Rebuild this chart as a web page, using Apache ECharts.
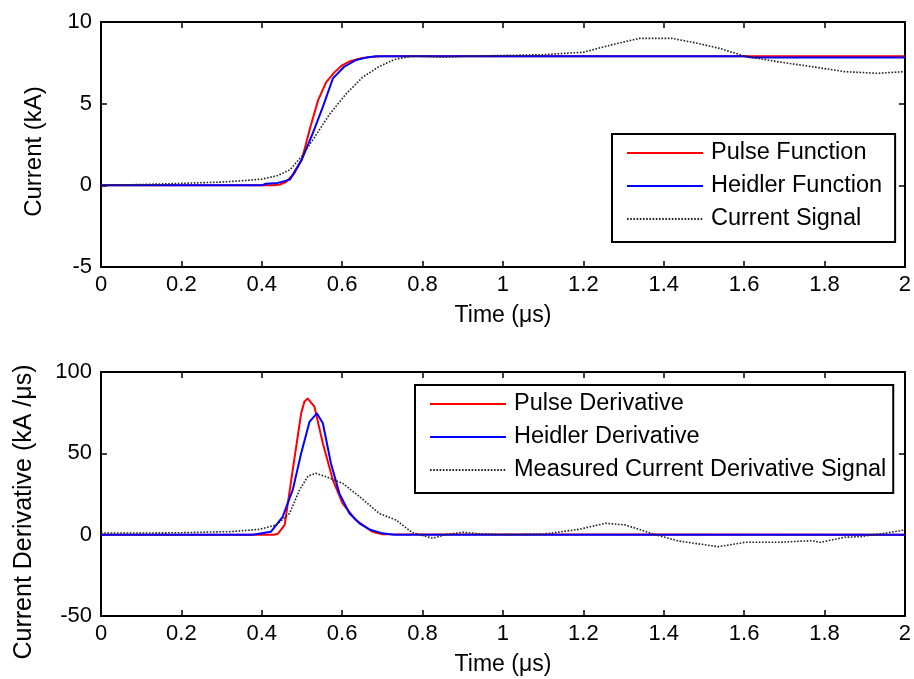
<!DOCTYPE html>
<html>
<head>
<meta charset="utf-8">
<script src="https://cdn.jsdelivr.net/npm/echarts@6/dist/echarts.min.js"></script>
<style>html,body{margin:0;padding:0;background:#fff}#c{width:914px;height:679px}</style>
</head>
<body>
<div id="c"></div>
<script>
// ---- Top panel: current (kA) vs time (us)
var pulseT = [0, 0.40, 0.43, 0.445, 0.46, 0.48, 0.50, 0.52, 0.54, 0.56, 0.58, 0.60, 0.62, 0.65, 0.68, 0.70, 2.0];
var pulseI = [0, 0, 0, 0.05, 0.2, 0.7, 1.6, 3.5, 5.2, 6.3, 6.9, 7.35, 7.6, 7.8, 7.88, 7.9, 7.9];
var heidT = [0, 0.40, 0.41, 0.44, 0.47, 0.50, 0.527, 0.552, 0.577, 0.605, 0.634, 0.66, 0.684, 0.72, 1.60, 1.62, 2.0];
var heidI = [0, 0, 0.1, 0.15, 0.35, 1.6, 3.2, 4.8, 6.55, 7.26, 7.67, 7.82, 7.9, 7.9, 7.9, 7.82, 7.82];
var sigT = [0, 0.1, 0.2, 0.3, 0.35, 0.4, 0.44, 0.47, 0.5, 0.53, 0.57, 0.61, 0.65, 0.69, 0.73, 0.77, 0.8, 0.85, 0.9, 1.0, 1.1, 1.2, 1.27, 1.34, 1.42, 1.48, 1.54, 1.6, 1.68, 1.77, 1.85, 1.93, 2.0];
var sigI = [0, 0.05, 0.12, 0.2, 0.28, 0.38, 0.6, 0.95, 1.8, 2.9, 4.4, 5.6, 6.6, 7.25, 7.7, 7.9, 7.9, 7.84, 7.9, 7.95, 8.0, 8.15, 8.6, 9.0, 9.0, 8.72, 8.38, 7.92, 7.58, 7.26, 6.96, 6.86, 6.96];

// ---- Bottom panel: current derivative (kA/us) vs time (us)
var pdT = [0, 0.43, 0.44, 0.457, 0.477, 0.498, 0.506, 0.514, 0.531, 0.552, 0.577, 0.601, 0.634, 0.675, 0.70, 2.0];
var pdV = [0, 0, 0.5, 6, 39.8, 74.6, 81.7, 83.8, 78.7, 56, 33.6, 19.3, 9, 1.8, 0.3, 0];
var hdT = [0, 0.378, 0.423, 0.452, 0.477, 0.498, 0.519, 0.537, 0.552, 0.572, 0.593, 0.618, 0.643, 0.67, 0.70, 0.73, 2.0];
var hdV = [0, 0, 1.8, 11, 27.5, 50, 69.5, 74.6, 68.5, 43.9, 25.4, 13.2, 7, 3, 0.8, 0, 0];
var mdT = [0, 0.1, 0.2, 0.3, 0.32, 0.395, 0.436, 0.469, 0.494, 0.515, 0.535, 0.56, 0.601, 0.643, 0.692, 0.734, 0.775, 0.825, 0.858, 0.9, 0.94, 1.0, 1.1, 1.19, 1.255, 1.304, 1.379, 1.437, 1.536, 1.602, 1.685, 1.767, 1.79, 1.85, 1.89, 1.95, 2.0];
var mdV = [1, 1, 1.2, 1.8, 1.8, 3.3, 6, 13, 27.5, 36, 37.7, 35.6, 31.6, 23.4, 13.1, 9, 1.2, -2.2, 0, 1.5, 0.5, 0, 0.3, 3.3, 7, 6, 0, -3.9, -7.4, -4.7, -4.7, -3.7, -4.7, -1.6, -1.2, 0.9, 2.9];

var xTicks = [0, 0.2, 0.4, 0.6, 0.8, 1, 1.2, 1.4, 1.6, 1.8, 2];
var topYTicks = [-5, 0, 5, 10];
var botYTicks = [-50, 0, 50, 100];

function pairs(t, v) { return t.map(function (x, i) { return [x, v[i]]; }); }

var FONT = 'Liberation Sans';
var axisLine = { show: true, onZero: false, lineStyle: { color: '#000', width: 2 } };
var tick = { show: true, inside: true, length: 6, lineStyle: { color: '#000', width: 1.5 } };

function xAx(gi) {
  return [{
    type: 'value', gridIndex: gi, position: 'bottom', min: xTicks[0], max: xTicks[xTicks.length - 1], interval: 0.2,
    axisLine: axisLine, axisTick: tick, splitLine: { show: false },
    axisLabel: { show: true, color: '#000', fontFamily: FONT, fontSize: 22, margin: 7, formatter: function (v) { return String(+v.toFixed(1)); } },
    name: 'Time (μs)', nameLocation: 'middle', nameGap: 37,
    nameTextStyle: { color: '#000', fontFamily: FONT, fontSize: 23 }
  }, {
    type: 'value', gridIndex: gi, position: 'top', min: xTicks[0], max: xTicks[xTicks.length - 1], interval: 0.2,
    axisLine: axisLine, axisTick: tick, splitLine: { show: false }, axisLabel: { show: false }
  }];
}
function yAx(gi, ticks, name, gap, size, pad) {
  var iv = ticks[1] - ticks[0];
  return [{
    type: 'value', gridIndex: gi, position: 'left', min: ticks[0], max: ticks[ticks.length - 1], interval: iv,
    axisLine: axisLine, axisTick: tick, splitLine: { show: false },
    axisLabel: { show: true, color: '#000', fontFamily: FONT, fontSize: 22, margin: 9 },
    name: name, nameLocation: 'middle', nameGap: gap, nameRotate: 90,
    nameTextStyle: { color: '#000', fontFamily: FONT, fontSize: size, padding: pad }
  }, {
    type: 'value', gridIndex: gi, position: 'right', min: ticks[0], max: ticks[ticks.length - 1], interval: iv,
    axisLine: axisLine, axisTick: tick, splitLine: { show: false }, axisLabel: { show: false }
  }];
}

function ser(name, t, v, xi, yi, color, dotted) {
  return {
    name: name, type: 'line', xAxisIndex: xi, yAxisIndex: yi, data: pairs(t, v),
    symbol: 'none', showSymbol: false, animation: false,
    lineStyle: { color: color, width: dotted ? 1.6 : 2, type: dotted ? [1.6, 1.6] : 'solid' },
    itemStyle: { color: color }
  };
}

var legendCommon = {
  orient: 'vertical', itemWidth: 76, itemHeight: 20, itemGap: 9,
  backgroundColor: '#fff', borderColor: '#000', borderWidth: 2, borderRadius: 0,
  selectedMode: false,
  itemStyle: { opacity: 0 },
  lineStyle: { opacity: 1 },
  textStyle: { color: '#000', fontFamily: FONT, fontSize: 23.5, padding: [0, 0, 0, 3] }
};

var option = {
  backgroundColor: '#fff',
  animation: false,
  grid: [
    { left: 101, right: 7, top: 22, height: 245, containLabel: false },
    { left: 101, right: 7, top: 372, height: 244, containLabel: false }
  ],
  xAxis: xAx(0).concat(xAx(1)),
  yAxis: yAx(0, topYTicks, 'Current (kA)', 55, 24, [0, 14, 0, 0]).concat(yAx(1, botYTicks, 'Current Derivative (kA /μs)', 64, 25, [0, 36, 0, 0])),
  legend: [
    Object.assign({}, legendCommon, { left: 612, top: 134, padding: [7, 13, 11, 14], data: ['Pulse Function', 'Heidler Function', 'Current Signal'] }),
    Object.assign({}, legendCommon, { left: 415, top: 385, padding: [7, 7, 11, 14], data: ['Pulse Derivative', 'Heidler Derivative', 'Measured Current Derivative Signal'] })
  ],
  series: [
    ser('Pulse Function', pulseT, pulseI, 0, 0, '#ff0000', false),
    ser('Heidler Function', heidT, heidI, 0, 0, '#0000ff', false),
    ser('Current Signal', sigT, sigI, 0, 0, '#222222', true),
    ser('Pulse Derivative', pdT, pdV, 2, 2, '#ff0000', false),
    ser('Heidler Derivative', hdT, hdV, 2, 2, '#0000ff', false),
    ser('Measured Current Derivative Signal', mdT, mdV, 2, 2, '#222222', true)
  ]
};

var chart = echarts.init(document.getElementById('c'), null, { renderer: 'canvas' });
chart.setOption(option);
</script>
</body>
</html>
